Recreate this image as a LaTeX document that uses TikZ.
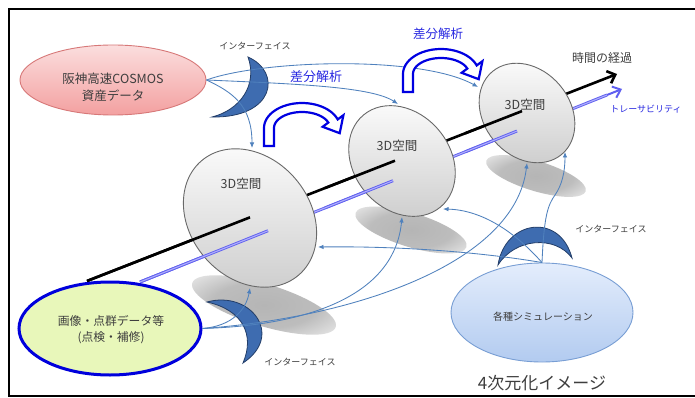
\documentclass[tikz,border=0pt]{standalone}
\usepackage{fontspec}
\setmainfont{Noto Sans CJK JP}
\usetikzlibrary{shapes.geometric,arrows.meta}
\definecolor{conn}{RGB}{79,129,189}
\definecolor{moonfill}{RGB}{62,108,176}
\definecolor{moonedge}{RGB}{35,62,105}
\definecolor{tracecol}{RGB}{95,95,240}
\definecolor{diffblue}{RGB}{40,40,225}
\definecolor{txtgray}{RGB}{62,62,62}
\definecolor{blockblue}{RGB}{0,0,225}
\pgfdeclareradialshading{softshadow}{\pgfpoint{0bp}{0bp}}{color(0bp)=(gray!58); color(18bp)=(gray!52); color(42bp)=(white); color(50bp)=(white)}
\begin{document}
\begin{tikzpicture}[x=1pt,y=-1pt,
  frame/.style={line width=1.8pt,black},
  shadowell/.style={shading=softshadow},
  sphere/.style={draw={rgb,255:red,105;green,105;blue,105},line width=0.9pt,top color=gray!4,bottom color=gray!38},
  timeline/.style={line width=2.6pt,black},
  traceline/.style={draw=tracecol,line width=0.9pt,double={rgb,255:red,175;green,175;blue,250},double distance=1.1pt},
  moon/.style={fill=moonfill,draw=moonedge,line width=0.8pt},
  conn/.style={draw=conn,line width=0.85pt,-{Latex[length=5.5pt,width=4.5pt]}},
  blockarr/.style={draw=blockblue,line width=2.2pt,fill=white,line join=miter},
  label/.style={text=txtgray,inner sep=0pt},
  bluelabel/.style={text=diffblue,inner sep=0pt},
  pinkell/.style={ellipse,draw={rgb,255:red,215;green,120;blue,120},line width=0.9pt,top color={rgb,255:red,251;green,222;blue,222},bottom color={rgb,255:red,243;green,160;blue,160},minimum width=186pt,minimum height=70pt,inner sep=0pt},
  greenell/.style={ellipse,draw={rgb,255:red,0;green,0;blue,220},line width=3pt,fill={rgb,255:red,232;green,247;blue,186},minimum width=182pt,minimum height=93pt,inner sep=0pt},
  simell/.style={ellipse,draw={rgb,255:red,120;green,158;blue,212},line width=0.9pt,top color={rgb,255:red,228;green,237;blue,252},bottom color={rgb,255:red,178;green,203;blue,240},minimum width=182pt,minimum height=99pt,inner sep=0pt}
]
\useasboundingbox (0,0) rectangle (695,398);
\clip (0,0) rectangle (695,398);
\fill[white] (0,0) rectangle (695,398);
\draw[frame] (9,9) rectangle (704,396);

% shadows
\shade[shadowell,rotate around={-17:(264,305)}] (264,305) ellipse [x radius=75, y radius=21];
\shade[shadowell,rotate around={-17:(411,230)}] (411,230) ellipse [x radius=58, y radius=17];
\shade[shadowell,rotate around={-17:(536,176)}] (536,176) ellipse [x radius=52, y radius=15];

% time axis and traceability (full, behind spheres)
\coordinate (t0) at (87,281);
\coordinate (t1) at (617,74);
\coordinate (b0) at (140,282);
\coordinate (b1) at (622,89);
\coordinate (b1pre) at (607,95);
\draw[timeline,-{Straight Barb[length=7pt,width=13pt]}] (t0) -- (t1);
\draw[traceline] (b0) -- (b1pre);
\draw[draw=tracecol,line width=2pt,-{Straight Barb[length=7pt,width=12pt]}] (b1pre) -- (b1);

% source ellipses
\node[pinkell] (pink) at (113,80) {};
\node[greenell] (green) at (110,328.5) {};
\node[simell] (sim) at (542,312.5) {};

% spheres
\draw[sphere,rotate around={40:(250,218)}] (250,218) ellipse [x radius=60, y radius=75];
\draw[sphere,rotate around={40:(402,161)}] (402,161) ellipse [x radius=48, y radius=60];
\draw[sphere,rotate around={40:(527,113)}] (527,113) ellipse [x radius=43, y radius=54];

% visible parts of the lines inside the spheres
\coordinate (c1) at (250,217.34);
\coordinate (e2) at (325,188.05);
\coordinate (c2) at (395,160.71);
\coordinate (e3) at (465,133.37);
\coordinate (c3) at (522,111.1);
\draw[timeline] (t0) -- (c1);
\draw[timeline] (e2) -- (c2);
\draw[timeline] (e3) -- (c3);
\coordinate (d1) at (268,230.75);
\coordinate (f2) at (325,207.92);
\coordinate (d2) at (393,180.7);
\coordinate (f3) at (465,151.9);
\coordinate (d3) at (517,131.04);
\draw[traceline] (b0) -- (d1);
\draw[traceline] (f2) -- (d2);
\draw[traceline] (f3) -- (d3);

% interfaces (crescents)
\path[moon] (248,57) .. controls (282,72) and (275,118) .. (212,117) .. controls (240,110) and (258,85) .. (248,57) -- cycle;
\path[moon] (207,302) .. controls (250,290) and (285,335) .. (243,363) .. controls (255,335) and (243,310) .. (207,302) -- cycle;
\path[moon] (498,265) .. controls (505,220) and (560,212) .. (572,258) .. controls (555,235) and (515,238) .. (498,265) -- cycle;

% connector targets
\coordinate (s1top) at (252,148);
\coordinate (s2top) at (398,104);
\coordinate (s3left) at (478,87);
\coordinate (s1bot) at (250,288);
\coordinate (s2bot) at (402,217);
\coordinate (s3bot) at (527,163);
\coordinate (s1right) at (318,247);
\coordinate (s2br) at (443,209);
\coordinate (s3br) at (565,152);

\draw[conn] (pink.east) .. controls (232,92) and (252,105) .. (s1top);
\draw[conn] (pink.east) .. controls (300,84) and (372,87) .. (s2top);
\draw[conn] (pink.east) .. controls (262,60) and (420,55) .. (s3left);
\draw[conn] (green.east) .. controls (232,326) and (246,310) .. (s1bot);
\draw[conn] (green.east) .. controls (320,325) and (395,290) .. (s2bot);
\draw[conn] (green.east) .. controls (350,318) and (515,265) .. (s3bot);
\draw[conn] (sim.north) .. controls (480,252) and (400,246) .. (s1right);
\draw[conn] (sim.north) .. controls (515,232) and (482,210) .. (s2br);
\draw[conn] (sim.north) .. controls (544,215) and (548,205) .. (555,195) .. controls (562,185) and (565,172) .. (s3br);

% difference-analysis block arrows
\path[blockarr] (264,146) -- (264,128)
  -- plot[domain=180:340,samples=30,variable=\t] ({302+38*cos(\t)},{128+25*sin(\t)})
  -- (343.4,115.2) -- (339.7,133.2) -- (322.6,126.8)
  -- plot[domain=340:180,samples=30,variable=\t] ({302+28*cos(\t)},{128+16*sin(\t)})
  -- (274,146) -- cycle;
\begin{scope}[shift={(139,-54)}]
\path[blockarr] (264,146) -- (264,128)
  -- plot[domain=180:340,samples=30,variable=\t] ({302+38*cos(\t)},{128+25*sin(\t)})
  -- (343.4,115.2) -- (339.7,133.2) -- (322.6,126.8)
  -- plot[domain=340:180,samples=30,variable=\t] ({302+28*cos(\t)},{128+16*sin(\t)})
  -- (274,146) -- cycle;
\end{scope}

% texts
\node[label,align=center,font=\fontsize{12.5}{17}\selectfont] (pinktxt) at (113,87.5) {阪神高速COSMOS\\資産データ};
\node[label,align=center,font=\fontsize{11.8}{16}\selectfont] (greentxt) at (111,330) {画像・点群データ等\\(点検・補修)};
\node[label,font=\fontsize{10}{12}\selectfont] (simtxt) at (543,317) {各種シミュレーション};
\node[label,font=\fontsize{12.5}{15}\selectfont] (sp1txt) at (241,184) {3D空間};
\node[label,font=\fontsize{12.5}{15}\selectfont] (sp2txt) at (397,146) {3D空間};
\node[label,font=\fontsize{12.5}{15}\selectfont] (sp3txt) at (525,105) {3D空間};
\node[label,font=\fontsize{9}{11}\selectfont] (if1) at (255,46) {インターフェイス};
\node[label,font=\fontsize{9}{11}\selectfont] (if2) at (300,362) {インターフェイス};
\node[label,font=\fontsize{9}{11}\selectfont] (if3) at (611,229) {インターフェイス};
\node[bluelabel,font=\fontsize{13}{15}\selectfont] (diff1) at (316,77) {差分解析};
\node[bluelabel,font=\fontsize{12.5}{15}\selectfont] (diff2) at (438,34) {差分解析};
\node[label,font=\fontsize{12}{14}\selectfont] (timetxt) at (602,58) {時間の経過};
\node[bluelabel,font=\fontsize{9}{11}\selectfont] (tracetxt) at (646,109) {トレーサビリティ};
\node[label,font=\fontsize{17}{20}\selectfont] (title) at (542,383) {4次元化イメージ};
\end{tikzpicture}
\end{document}
